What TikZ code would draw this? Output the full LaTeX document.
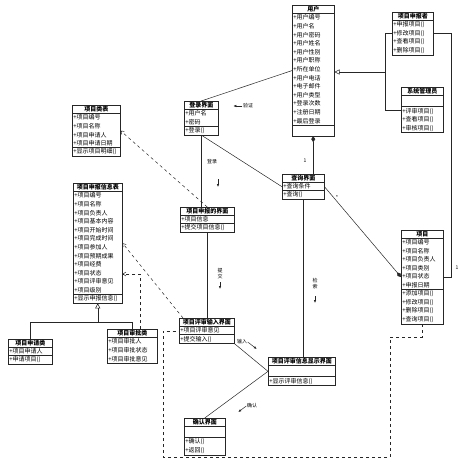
\documentclass[tikz,border=0pt]{standalone}
\usepackage{fontspec}
\newfontfamily\cjk{Noto Sans CJK SC}
\usetikzlibrary{shapes.multipart,arrows.meta,positioning,calc}
\newcommand\ttl[1]{\makebox[\hsize]{\bfseries #1}}
\tikzset{
  cls/.style={draw=black!85,line width=0.5pt,rectangle split,rectangle split parts=3,align=left,anchor=north west,
    font=\cjk\fontsize{6}{8.6}\selectfont,inner sep=1pt},
  ln/.style={draw=black!85,line width=0.5pt},
  gen/.style={ln,-{Triangle[open,length=5pt,width=5pt]}},
  dep/.style={ln,dashed,-{Straight Barb[length=3pt,width=4pt]}},
  comp/.style={ln,-{Diamond[length=6pt,width=4pt]}},
  lbl/.style={font=\cjk\fontsize{5}{6}\selectfont,inner sep=0.5pt},
  marr/.style={ln,-{Latex[length=3pt,width=2.5pt]}}
}
\begin{document}
\begin{tikzpicture}[x=1pt,y=-1pt]
\useasboundingbox (0,0) rectangle (460,468);
% classes
\node[cls,text width=40pt] (user) at (292,5) {\ttl{用户}
  \nodepart{two}+用户编号\\+用户名\\+用户密码\\+用户姓名\\+用户性别\\+用户职称\\+所在单位\\+用户电话\\+电子邮件\\+用户类型\\+登录次数\\+注册日期\\+最后登录
  \nodepart{three}\strut};
\node[cls,rectangle split parts=2,text width=39pt] (decl) at (392,12) {\ttl{项目申报者}
  \nodepart{two}+申报项目()\\+修改项目()\\+查看项目()\\+删除项目()};
\node[cls,text width=40pt] (admin) at (401,87) {\ttl{系统管理员}
  \nodepart{two}\strut
  \nodepart{three}+评审项目()\\+查看项目()\\+审核项目()};
\node[cls,text width=32pt] (login) at (184,101) {\ttl{登录界面}
  \nodepart{two}+用户名\\+密码
  \nodepart{three}+登录()};
\node[cls,text width=46pt] (xmlb) at (72,105) {\ttl{项目类表}
  \nodepart{two}+项目编号\\+项目名称\\+项目申请人\\+项目申请日期
  \nodepart{three}+显示项目明细()};
\node[cls,text width=47pt] (sbxx) at (73,183) {\ttl{项目申报信息表}
  \nodepart{two}+项目编号\\+项目名称\\+项目负责人\\+项目基本内容\\+项目开始时间\\+项目完成时间\\+项目参加人\\+项目预期成果\\+项目经费\\+项目状态\\+项目评审意见\\+项目级别
  \nodepart{three}+显示申报信息()};
\node[cls,text width=52pt] (sbjm) at (180,207) {\ttl{项目申报的界面}
  \nodepart{two}+项目信息
  \nodepart{three}+提交项目信息()};
\node[cls,text width=40pt] (query) at (282,174) {\ttl{查询界面}
  \nodepart{two}+查询条件
  \nodepart{three}+查询()};
\node[cls,text width=40pt] (proj) at (401,230) {\ttl{项目}
  \nodepart{two}+项目编号\\+项目名称\\+项目负责人\\+项目类别\\+项目状态\\+申报日期
  \nodepart{three}+添加项目()\\+修改项目()\\+删除项目()\\+查询项目()};
\node[cls,text width=42pt] (sqcls) at (8,339) {\ttl{项目申请类}
  \nodepart{two}+项目申请人
  \nodepart{three}+申请项目()};
\node[cls,rectangle split parts=2,text width=48pt] (spcls) at (107,329) {\ttl{项目审批类}
  \nodepart{two}+项目审批人\\+项目审批状态\\+项目审批意见};
\node[cls,text width=53pt] (srjm) at (179,318) {\ttl{项目评审输入界面}
  \nodepart{two}+项目评审意见
  \nodepart{three}+提交输入()};
\node[cls,text width=65pt] (xsjm) at (268,357) {\ttl{项目评审信息显示界面}
  \nodepart{two}\strut
  \nodepart{three}+显示评审信息()};
\node[cls,text width=39pt] (qrjm) at (184,418) {\ttl{确认界面}
  \nodepart{two}\strut
  \nodepart{three}+确认()\\+返回()};
% generalization of user
\coordinate (gu) at (385,72);
\draw[ln] (decl.west) -| (gu);
\draw[ln] (admin.west) -| (gu);
\draw[gen] (gu) -- (gu -| user.east);
% associations
\draw[ln] (decl.east) -- ++(18,0) |- (proj.east);
\node[lbl] (m3) at (457,268) {1};
\draw[ln] (login.north) -- (user.west);
\node[lbl] (l1) at (248,106) {验证};
\draw[marr] (l1.west) -- ++(-9,0);
\draw[comp] (user.south |- query.north) -- (user.south);
\node[lbl] (m1) at (305,161) {1};
\draw[ln] (login.south) -- (login.south |- sbjm.north);
\node[lbl] (l2) at (212,162) {登录};
\draw[marr] (l2.south) ++(6,14) -- ++(0,8);
\draw[ln] (login.south) -- (query.west);
\draw[comp] (query.east) -- (proj.west);
\node[lbl] (m2) at (337,198) {*};
\draw[ln] (query.south) -- (query.south |- xsjm.north);
\node[lbl,align=center] (l3) at (315,284) {检\\索};
\draw[marr] (l3.south) ++(0,6) -- ++(0,7);
\draw[ln] (sbjm.south) -- (sbjm.south |- srjm.north);
\node[lbl,align=center] (l4) at (220,274) {提\\交};
\draw[marr] (l4.south) ++(0,2) -- ++(0,7);
\draw[ln] (srjm.south east) -- (xsjm.west);
\node[lbl] (l5) at (242,342) {输入};
\draw[marr] (l5.east) -- ++(9,7);
\draw[ln] (xsjm.west) -- (qrjm.north);
\node[lbl] (l6) at (252,406) {确认};
\draw[marr] (l6.west) -- ++(-8,6);
% dependencies
\draw[dep] (sbjm.north) -- (xmlb.east);
\draw[dep] ([xshift=4pt]srjm.north west) -- (sbxx.east);
\draw[dep] ([xshift=8pt]spcls.north) |- (sbxx.east |- 0,274);
% generalization of sbxx
\coordinate (gt) at (sbxx.south |- 0,322);
\draw[ln] (sqcls.north) |- (gt);
\draw[ln] (spcls.north) |- (gt);
\draw[gen] (gt) -- (sbxx.south);
% dashed path round the bottom
\coordinate (b1) at (390,337);
\coordinate (b2) at (390,457);
\coordinate (b3) at (163,457);
\draw[ln,dashed] (proj.south) |- (b1) -- (b2) -- (b3) |- (srjm.west);
\end{tikzpicture}
\end{document}
